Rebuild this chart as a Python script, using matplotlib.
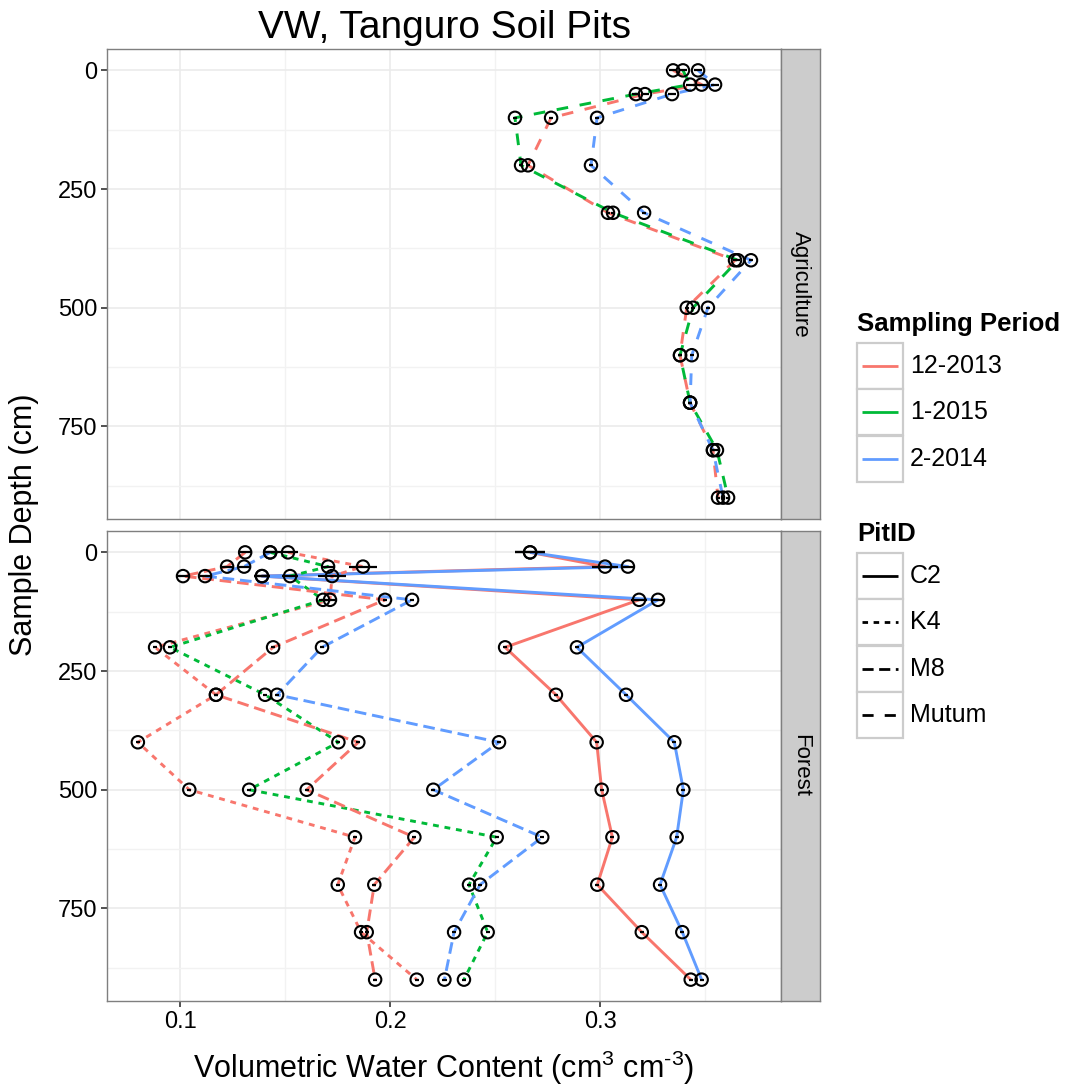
import matplotlib
matplotlib.use("Agg")
import matplotlib.pyplot as plt
from matplotlib.patches import Rectangle
from matplotlib.lines import Line2D

plt.rcParams['font.family'] = ['Liberation Sans', 'DejaVu Sans']
plt.rcParams['mathtext.fontset'] = 'custom'
plt.rcParams['mathtext.rm'] = 'Liberation Sans'
plt.rcParams['mathtext.it'] = 'Liberation Sans:italic'

W, H = 1065, 1091

# depths (cm) of the samples, same for every pit
depths = [0, 30, 50, 100, 200, 300, 400, 500, 600, 700, 800, 900]

# Agriculture - pit Mutum
ag_mutum_1213 = [0.3348, 0.3484, 0.3214, 0.2767, 0.2657, 0.3038, 0.3643, 0.3413, 0.3381, 0.3429, 0.3538, 0.3562]
ag_mutum_0115 = [0.3395, 0.3429, 0.3171, 0.2595, 0.2624, 0.3062, 0.3657, 0.3443, 0.3381, 0.3429, 0.3557, 0.3610]
ag_mutum_0214 = [0.3467, 0.3548, 0.3343, 0.2986, 0.2957, 0.3210, 0.3719, 0.3514, 0.3437, 0.3429, 0.3538, 0.3586]
ag_err_1213 = [0.002, 0.004, 0.002, 0.001, 0.001, 0.001, 0.001, 0.001, 0.001, 0.001, 0.001, 0.001]
ag_err_0115 = [0.002, 0.002, 0.002, 0.001, 0.001, 0.001, 0.001, 0.001, 0.001, 0.001, 0.001, 0.001]
ag_err_0214 = [0.002, 0.002, 0.002, 0.001, 0.001, 0.001, 0.001, 0.001, 0.001, 0.001, 0.001, 0.001]

# Forest - pits C2, K4, M8
fo_c2_1213 = [0.2667, 0.3024, 0.1390, 0.3186, 0.2548, 0.2790, 0.2984, 0.3008, 0.3059, 0.2987, 0.3199, 0.3432]
fo_c2_0214 = [0.2667, 0.3133, 0.1390, 0.3276, 0.2890, 0.3124, 0.3354, 0.3397, 0.3365, 0.3286, 0.3392, 0.3484]
fo_k4_1213 = [0.1514, 0.1871, 0.1724, 0.1714, 0.0881, 0.1171, 0.0799, 0.1044, 0.1833, 0.1751, 0.1862, 0.2127]
fo_k4_0115 = [0.1429, 0.1705, 0.1524, 0.1681, 0.0952, 0.1405, 0.1754, 0.1329, 0.2508, 0.2376, 0.2465, 0.2352]
fo_m8_1213 = [0.1310, 0.1224, 0.1014, 0.1976, 0.1443, 0.1171, 0.1849, 0.1603, 0.2116, 0.1925, 0.1889, 0.1929]
fo_m8_0214 = [0.1429, 0.1305, 0.1119, 0.2105, 0.1676, 0.1462, 0.2519, 0.2206, 0.2725, 0.2429, 0.2305, 0.2259]
fo_err_c2_1213 = [0.007, 0.006, 0.004, 0.004, 0.001, 0.001, 0.001, 0.001, 0.001, 0.001, 0.001, 0.001]
fo_err_c2_0214 = [0.007, 0.003, 0.004, 0.003, 0.001, 0.001, 0.001, 0.001, 0.001, 0.001, 0.001, 0.001]
fo_err_k4_1213 = [0.005, 0.0065, 0.0065, 0.003, 0.001, 0.001, 0.001, 0.001, 0.001, 0.001, 0.001, 0.001]
fo_err_k4_0115 = [0.003, 0.003, 0.004, 0.002, 0.001, 0.001, 0.001, 0.001, 0.001, 0.001, 0.001, 0.001]
fo_err_m8_1213 = [0.003, 0.003, 0.003, 0.001, 0.001, 0.001, 0.001, 0.001, 0.001, 0.001, 0.001, 0.001]
fo_err_m8_0214 = [0.003, 0.003, 0.003, 0.001, 0.001, 0.001, 0.001, 0.001, 0.001, 0.001, 0.001, 0.001]

periods = ['12-2013', '1-2015', '2-2014']
pits = ['C2', 'K4', 'M8', 'Mutum']
period_colors = {'12-2013': '#F8766D', '1-2015': '#00BA38', '2-2014': '#619CFF'}
pit_styles = {'C2': '-', 'K4': (0, (2, 2)), 'M8': (0, (4, 2)), 'Mutum': (0, (4, 4))}

agri = [
    (ag_mutum_1213, ag_err_1213, '12-2013', 'Mutum'),
    (ag_mutum_0115, ag_err_0115, '1-2015', 'Mutum'),
    (ag_mutum_0214, ag_err_0214, '2-2014', 'Mutum'),
]
forest = [
    (fo_c2_1213, fo_err_c2_1213, '12-2013', 'C2'),
    (fo_c2_0214, fo_err_c2_0214, '2-2014', 'C2'),
    (fo_k4_1213, fo_err_k4_1213, '12-2013', 'K4'),
    (fo_k4_0115, fo_err_k4_0115, '1-2015', 'K4'),
    (fo_m8_1213, fo_err_m8_1213, '12-2013', 'M8'),
    (fo_m8_0214, fo_err_m8_0214, '2-2014', 'M8'),
]


def px_box(x0, y0, x1, y1):
    """pixel box (top-left origin) -> figure fraction rect"""
    return [x0 / W, 1 - y1 / H, (x1 - x0) / W, (y1 - y0) / H]


def draw_panel(ax, series, show_x):
    for vals, errs, period, pit in series:
        ax.plot(vals, depths, color=period_colors[period], lw=2.1,
                linestyle=pit_styles[pit], solid_capstyle='butt', zorder=2)
    for vals, errs, period, pit in series:
        ax.errorbar(vals, depths, xerr=errs, fmt='none', ecolor='black',
                    elinewidth=1.6, capsize=0, zorder=3)
        ax.scatter(vals, depths, s=80, facecolors='none', edgecolors='black',
                   linewidths=1.5, zorder=4)
    ax.set_xlim(0.0652, 0.3862)
    ax.set_ylim(945, -45)
    ax.set_xticks([0.1, 0.2, 0.3])
    ax.set_xticks([0.15, 0.25, 0.35], minor=True)
    ax.set_yticks([0, 250, 500, 750])
    ax.set_yticks([125, 375, 625, 875], minor=True)
    ax.grid(which='major', color='#EBEBEB', lw=1.2)
    ax.grid(which='minor', color='#F2F2F2', lw=1.0)
    ax.set_axisbelow(True)
    for sp in ax.spines.values():
        sp.set_color('#7F7F7F')
        sp.set_linewidth(1.0)
    ax.tick_params(which='major', length=4, width=1.2, color='#333333',
                   labelsize=17, labelcolor='black', pad=3)
    ax.tick_params(which='minor', length=0)
    ax.set_yticklabels(['0', '250', '500', '750'])
    if show_x:
        ax.set_xticklabels(['0.1', '0.2', '0.3'])
    else:
        ax.tick_params(axis='x', which='both', length=0, labelbottom=False)


fig = plt.figure(figsize=(W / 100, H / 100), dpi=100)
fig.patch.set_facecolor('white')

ax_top = fig.add_axes(px_box(107, 49, 781, 519))
ax_bot = fig.add_axes(px_box(107, 531, 781, 1001))
draw_panel(ax_top, agri, False)
draw_panel(ax_bot, forest, True)

# facet strips
for (y0, y1), lab in [((49, 519), 'Agriculture'), ((531, 1001), 'Forest')]:
    sax = fig.add_axes(px_box(781, y0, 820, y1))
    sax.set_facecolor('#CCCCCC')
    sax.set_xticks([])
    sax.set_yticks([])
    for sp in sax.spines.values():
        sp.set_color('#7F7F7F')
        sp.set_linewidth(1.0)
    sax.text(0.5, 0.5, lab, rotation=-90, ha='center', va='center',
             fontsize=16, transform=sax.transAxes)

fig.text(444 / W, 1 - 28 / H, 'VW, Tanguro Soil Pits', ha='center', va='center', fontsize=28)
fig.text(444 / W, 1 - 1068 / H, 'Volumetric Water Content (cm$^{3}$ cm$^{\\mathrm{\u2010}3}$)',
         ha='center', va='center', fontsize=22)
fig.text(24 / W, 1 - 525 / H, 'Sample Depth (cm)', rotation=90, ha='center',
         va='center', fontsize=22)

# legends drawn in pixel space
lax = fig.add_axes([0, 0, 1, 1])
lax.set_xlim(0, W)
lax.set_ylim(H, 0)
lax.axis('off')


def legend_block(title, title_y, labels, first_y, line_kw):
    lax.text(857, title_y, title, fontsize=18.5, fontweight='bold', ha='left', va='center')
    for i, lab in enumerate(labels):
        cy = first_y + i * 46.3
        lax.add_patch(Rectangle((857, cy - 23), 46, 46, facecolor='white',
                                edgecolor='#CCCCCC', lw=1.6))
        kw = line_kw(lab)
        lax.add_line(Line2D([862, 898], [cy, cy], lw=2.0, solid_capstyle='butt', **kw))
        lax.text(910, cy, lab, fontsize=18, ha='left', va='center')


legend_block('Sampling Period', 324, periods, 366,
             lambda p: {'color': period_colors[p], 'linestyle': '-'})
legend_block('PitID', 534, pits, 576,
             lambda p: {'color': 'black', 'linestyle': pit_styles[p]})

fig.savefig('out.png', dpi=100)
